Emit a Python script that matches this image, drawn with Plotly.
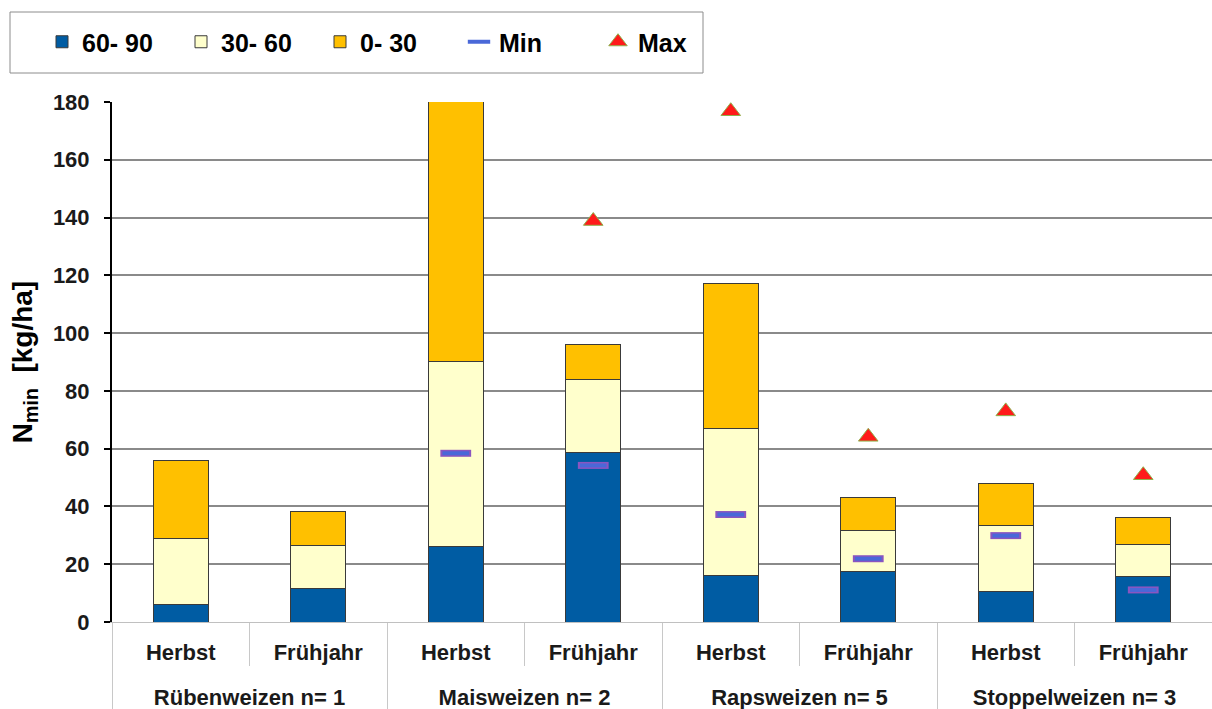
import plotly.graph_objects as go

# Categories
groups = ["Rübenweizen n= 1", "Maisweizen n= 2", "Rapsweizen n= 5", "Stoppelweizen n= 3"]
seasons = ["Herbst", "Frühjahr"]

# Nmin per soil layer (kg/ha), one value per bar: Herbst/Frühjahr within each group
layer_60_90 = [6.0, 11.6, 26.2, 58.8, 16.2, 17.6, 10.6, 15.7]
layer_30_60 = [22.8, 14.8, 64.1, 25.3, 50.8, 14.2, 22.8, 11.3]
layer_0_30 = [27.2, 11.9, 95.0, 11.8, 50.3, 11.2, 14.5, 9.2]

# Range of the sums over the sites of a group
min_vals = [None, None, 58.4, 54.2, 37.2, 21.9, 29.9, 11.1]
max_vals = [None, None, None, 138.8, 176.8, 64.1, 72.9, 50.8]

y_ticks = [0, 20, 40, 60, 80, 100, 120, 140, 160, 180]

FONT = "Liberation Sans, Arial, sans-serif"
W, H = 1212, 709
ML, MR, MT, MB = 112, 0, 102, 87
PW, PH = W - ML - MR, H - MT - MB


def px_x(p):
    return (p - ML) / PW


def px_y(p):
    return (H - MB - p) / PH


# Group labels sit one line lower than the season labels
group_labels = ["<br>" + g for g in groups]
x_cat = [[g for g in group_labels for _ in seasons], seasons * len(groups)]

fig = go.Figure()
bar_style = dict(width=0.4, marker_line=dict(color="#3a3a3a", width=1))
fig.add_trace(go.Bar(x=x_cat, y=layer_60_90, name="60- 90",
                     marker_color="#005ca3", **bar_style))
fig.add_trace(go.Bar(x=x_cat, y=layer_30_60, name="30- 60",
                     marker_color="#ffffcc", **bar_style))
fig.add_trace(go.Bar(x=x_cat, y=layer_0_30, name="0- 30",
                     marker_color="#ffc000", **bar_style))

# Min: blue dash with a thin purple rim
fig.add_trace(go.Scatter(x=x_cat, y=min_vals, mode="markers", showlegend=False,
                         hoverinfo="skip",
                         marker=dict(symbol="line-ew", size=22,
                                     line=dict(color="#8a55c0", width=7))))
fig.add_trace(go.Scatter(x=x_cat, y=min_vals, mode="markers", name="Min",
                         marker=dict(symbol="line-ew", size=19,
                                     line=dict(color="#4a68d8", width=4))))
fig.add_trace(go.Scatter(x=x_cat, y=max_vals, mode="markers", name="Max",
                         marker=dict(symbol="triangle-up", size=17, color="#ff1a1a",
                                     line=dict(color="#8fb04a", width=1))))

# Legend frame
shapes = [dict(type="rect", xref="paper", yref="paper",
               x0=px_x(10), x1=px_x(703), y0=px_y(73), y1=px_y(12),
               line=dict(color="#8c8c8c", width=1), fillcolor="white",
               layer="below")]

fig.update_layout(
    width=W, height=H,
    margin=dict(l=ML, r=MR, t=MT, b=MB, pad=0),
    paper_bgcolor="white", plot_bgcolor="white",
    barmode="stack",
    font=dict(family=FONT, color="black", size=22, weight="bold"),
    shapes=shapes,
    showlegend=True,
    legend=dict(orientation="h", x=px_x(42), xanchor="left",
                y=px_y(42), yanchor="middle",
                font=dict(family=FONT, size=25, weight="bold", color="black"),
                bgcolor="rgba(0,0,0,0)", borderwidth=0,
                entrywidth=94, entrywidthmode="pixels",
                traceorder="normal"),
    xaxis=dict(type="multicategory", range=[-0.5, 7.5],
               showline=True, linecolor="#c0c0c0", linewidth=1,
               ticks="outside", tickson="boundaries", ticklen=43,
               tickcolor="#c8c8c8", tickwidth=1,
               ticklabelstandoff=11,
               showgrid=False,
               showdividers=True, dividercolor="#c8c8c8", dividerwidth=1,
               tickfont=dict(family=FONT, size=22, weight="bold", color="#1a1a1a")),
    yaxis=dict(range=[0, 180], tickvals=y_ticks, showgrid=True,
               gridcolor="#8a8a8a", gridwidth=2,
               showline=True, linecolor="black", linewidth=2,
               ticks="outside", ticklen=6, tickwidth=2, tickcolor="black",
               ticklabelstandoff=10,
               zeroline=False,
               tickfont=dict(family=FONT, size=22, weight="bold", color="#1a1a1a"),
               title=dict(text="N<sub>min</sub>  [kg/ha]", standoff=12,
                          font=dict(family=FONT, size=28, weight="bold",
                                    color="black"))),
)

fig.write_html("out.html")
